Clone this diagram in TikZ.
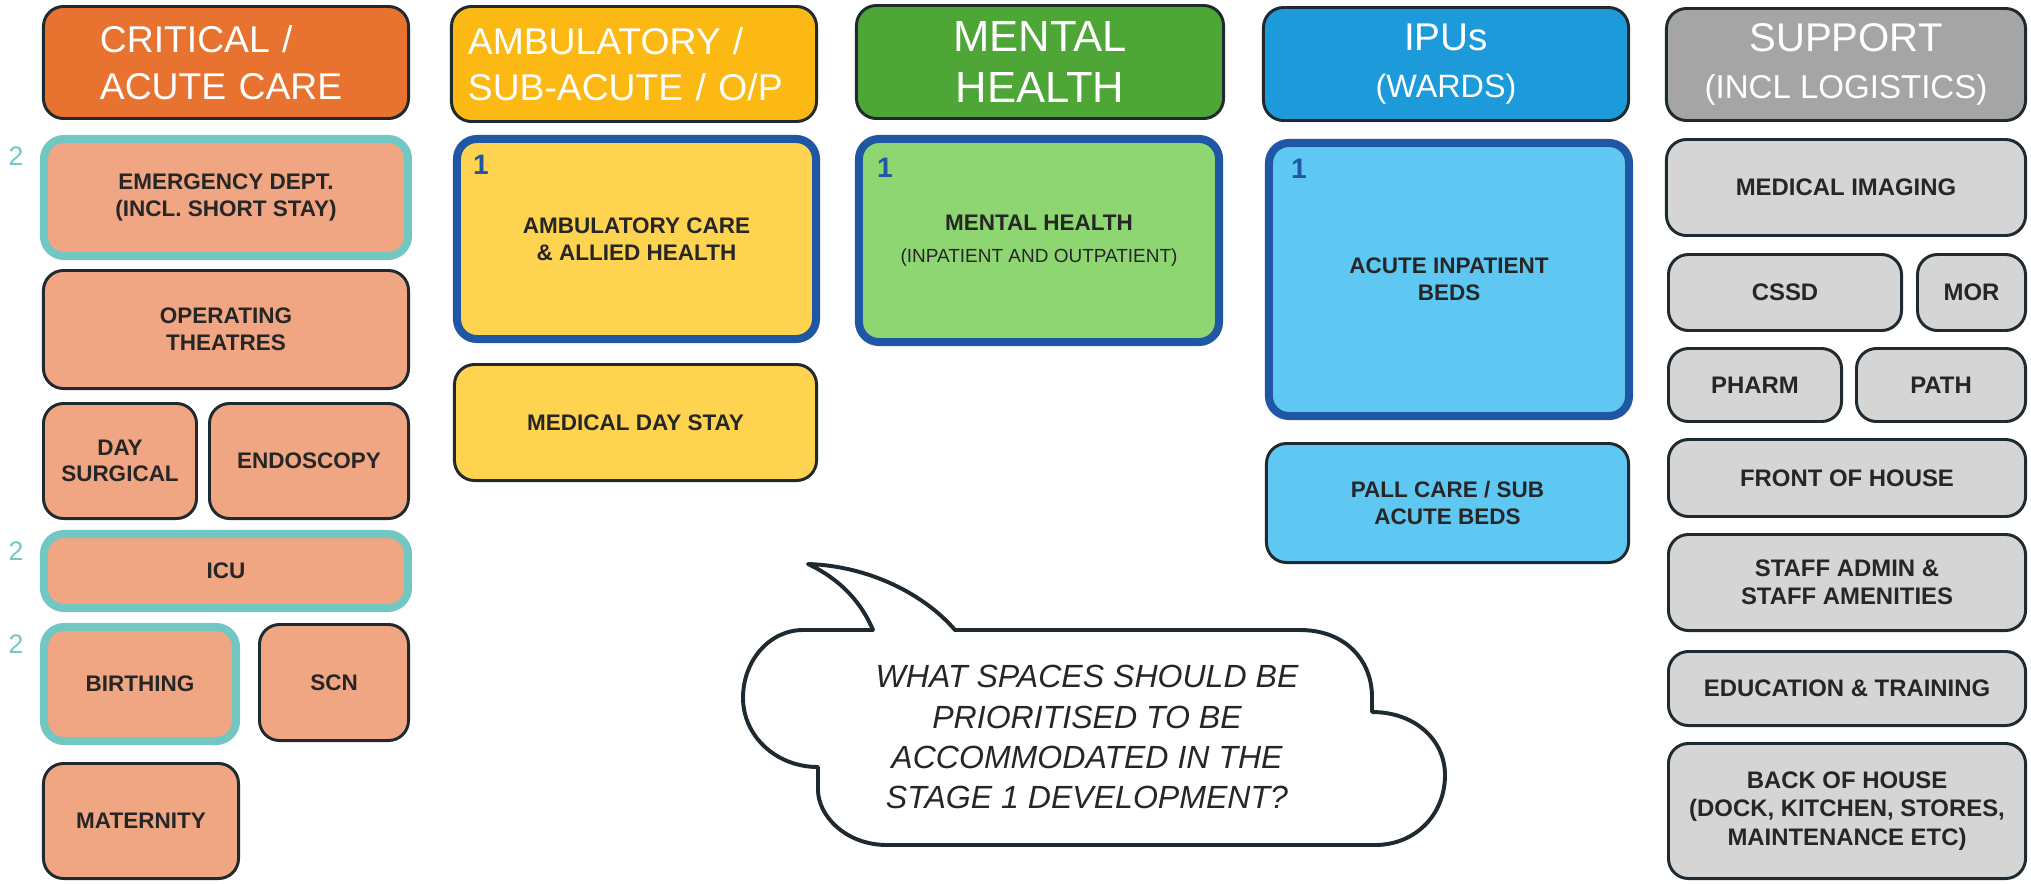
\documentclass[tikz,border=0pt]{standalone}
\usepackage{fontspec}
\setmainfont{Liberation Sans}
\usepackage{xcolor}
\usepackage{tikz}
\definecolor{LineDark}{HTML}{1F2A30}
\definecolor{TextDark}{HTML}{262626}
\definecolor{CritHead}{HTML}{E8722F}
\definecolor{CritSoft}{HTML}{F0A682}
\definecolor{AmbHead}{HTML}{FCB813}
\definecolor{AmbSoft}{HTML}{FDD34F}
\definecolor{MhHead}{HTML}{4DA635}
\definecolor{MhSoft}{HTML}{8DD672}
\definecolor{IpuHead}{HTML}{1C9ADA}
\definecolor{IpuSoft}{HTML}{5EC8F2}
\definecolor{SupHead}{HTML}{A5A5A5}
\definecolor{SupSoft}{HTML}{D5D5D5}
\definecolor{StageBlue}{HTML}{2057A4}
\definecolor{StageTeal}{HTML}{72C7C2}

\begin{document}
\begin{tikzpicture}[x=0.025cm,y=-0.025cm,
  zone/.style={draw=LineDark,line width=2.1pt,rounded corners=5mm,inner sep=0pt,align=center,text=TextDark,font=\fontsize{16}{19}\selectfont\bfseries},
  supzone/.style={zone,fill=SupSoft,font=\fontsize{17}{20}\selectfont\bfseries},
  head/.style={zone,text=white,font=\fontsize{26.5}{33}\selectfont},
  stageone/.style={draw=StageBlue,line width=5.7pt},
  stagetwo/.style={draw=StageTeal,line width=5.7pt},
  numone/.style={inner sep=0pt,text=StageBlue,font=\fontsize{20}{20}\selectfont\bfseries},
  numtwo/.style={inner sep=0pt,text=StageTeal,font=\fontsize{19}{19}\selectfont},
  bubble/.style={draw=LineDark,line width=2.8pt,fill=white,line join=round},
  asktext/.style={align=center,text=TextDark,font=\fontsize{22.8}{28.5}\selectfont\itshape}]
\useasboundingbox (0,0) rectangle (2031,883);
% critical / acute care
\node[head,fill=CritHead,minimum width=9.125cm,minimum height=2.8cm,text width=6.3cm,align=left] (crithead) at (226,62.5) {CRITICAL /\\ACUTE CARE};
\node[zone,stagetwo,fill=CritSoft,minimum width=9.1cm,minimum height=2.925cm] (ed) at (226,197.5) {EMERGENCY DEPT.\\(INCL. SHORT STAY)};
\node[zone,fill=CritSoft,minimum width=9.125cm,minimum height=2.95cm] (ot) at (226,329.5) {OPERATING\\THEATRES};
\node[zone,fill=CritSoft,minimum width=3.825cm,minimum height=2.875cm] (day) at (120,461) {DAY\\SURGICAL};
\node[zone,fill=CritSoft,minimum width=4.975cm,minimum height=2.875cm] (endo) at (309,461) {ENDOSCOPY};
\node[zone,stagetwo,fill=CritSoft,minimum width=9.1cm,minimum height=1.85cm] (icu) at (226,571) {ICU};
\node[zone,stagetwo,fill=CritSoft,minimum width=4.8cm,minimum height=2.85cm] (birth) at (140,684) {BIRTHING};
\node[zone,fill=CritSoft,minimum width=3.725cm,minimum height=2.9cm] (scn) at (334,682.5) {SCN};
\node[zone,fill=CritSoft,minimum width=4.875cm,minimum height=2.875cm] (mat) at (141,821) {MATERNITY};
\node[numtwo] (twoed) at ([shift={(-24,21)}]ed.north west) {2};
\node[numtwo] (twoicu) at ([shift={(-24,21)}]icu.north west) {2};
\node[numtwo] (twobirth) at ([shift={(-24,21)}]birth.north west) {2};
% ambulatory / sub-acute / o/p
\node[head,fill=AmbHead,minimum width=9.125cm,minimum height=2.875cm,text width=8.3cm,align=left] (ambhead) at (634,64) {AMBULATORY /\\SUB-ACUTE / O/P};
\node[zone,stageone,fill=AmbSoft,minimum width=8.975cm,minimum height=5cm] (ambcare) at (636.5,239) {AMBULATORY CARE\\\& ALLIED HEALTH};
\node[zone,fill=AmbSoft,minimum width=9.05cm,minimum height=2.9cm] (mds) at (635.5,422.5) {MEDICAL DAY STAY};
\node[numone] (oneamb) at ([shift={(28,30)}]ambcare.north west) {1};
% mental health
\node[head,fill=MhHead,minimum width=9.175cm,minimum height=2.825cm,font=\fontsize{31}{36}\selectfont] (mhhead) at (1040,62) {MENTAL\\HEALTH};
\node[zone,stageone,fill=MhSoft,minimum width=9cm,minimum height=5.075cm] (mh) at (1039,240.5) {MENTAL HEALTH\\[4pt]{\fontsize{13.5}{19}\selectfont\mdseries (INPATIENT AND OUTPATIENT)}};
\node[numone] (onemh) at ([shift={(30,33)}]mh.north west) {1};
% ipus (wards)
\node[head,fill=IpuHead,minimum width=9.125cm,minimum height=2.825cm,font=\fontsize{23}{34}\selectfont] (ipuhead) at (1446,64) {{\fontsize{27.5}{34}\selectfont IPUs}\\(WARDS)};
\node[zone,stageone,fill=IpuSoft,minimum width=9cm,minimum height=6.825cm] (acute) at (1449,279.5) {ACUTE INPATIENT\\BEDS};
\node[zone,fill=IpuSoft,minimum width=9.05cm,minimum height=2.975cm] (pall) at (1447.5,503) {PALL CARE / SUB\\ACUTE BEDS};
\node[numone] (oneacute) at ([shift={(34,30)}]acute.north west) {1};
% support (incl logistics)
\node[head,fill=SupHead,minimum width=8.975cm,minimum height=2.8cm,font=\fontsize{23.5}{33}\selectfont] (suphead) at (1846,64.5) {{\fontsize{28.5}{33}\selectfont SUPPORT}\\(INCL LOGISTICS)};
\node[supzone,minimum width=8.975cm,minimum height=2.4cm] (mi) at (1846,187.5) {MEDICAL IMAGING};
\node[supzone,minimum width=5.825cm,minimum height=1.9cm] (cssd) at (1785,292.5) {CSSD};
\node[supzone,minimum width=2.7cm,minimum height=1.9cm] (mor) at (1971.5,292.5) {MOR};
\node[supzone,minimum width=4.325cm,minimum height=1.825cm] (pharm) at (1755,385) {PHARM};
\node[supzone,minimum width=4.225cm,minimum height=1.825cm] (path) at (1941,385) {PATH};
\node[supzone,minimum width=8.925cm,minimum height=1.925cm] (foh) at (1847,478) {FRONT OF HOUSE};
\node[supzone,minimum width=8.925cm,minimum height=2.4cm] (staff) at (1847,582.5) {STAFF ADMIN \&\\STAFF AMENITIES};
\node[supzone,minimum width=8.925cm,minimum height=1.85cm] (edu) at (1847,688.5) {EDUCATION \& TRAINING};
\node[supzone,minimum width=8.925cm,minimum height=3.375cm] (boh) at (1847,811) {BACK OF HOUSE\\(DOCK, KITCHEN, STORES,\\MAINTENANCE ETC)};
% question cloud
\draw[bubble] (955,630) -- (1300,630) .. controls (1345,630) and (1372,660) .. (1372,697) -- (1372,712) .. controls (1415,712) and (1445,740) .. (1445,775) .. controls (1445,815) and (1415,845) .. (1375,845) -- (887,845) .. controls (845,845) and (818,815) .. (818,790) -- (818,767) .. controls (775,767) and (743,735) .. (743,698) .. controls (743,660) and (770,630) .. (803,630) -- (873,630) .. controls (862,604) and (842,580) .. (808,564) .. controls (870,566) and (925,595) .. (955,630) -- cycle;
\node[asktext] (ask) at (1087,737) {WHAT SPACES SHOULD BE\\PRIORITISED TO BE\\ACCOMMODATED IN THE\\STAGE 1 DEVELOPMENT?};
\end{tikzpicture}
\end{document}
